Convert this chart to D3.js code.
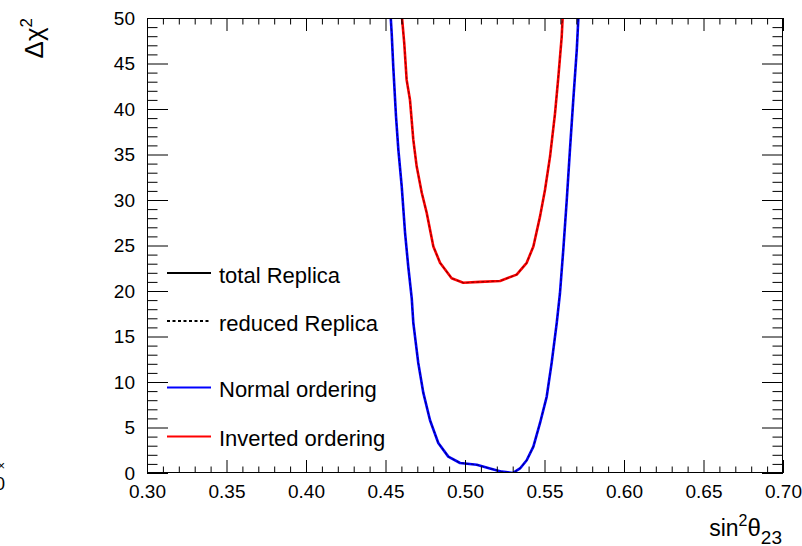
<!DOCTYPE html>
<html>
<head>
<meta charset="utf-8">
<script src="https://cdn.jsdelivr.net/npm/d3@7"></script>
<style>
  html, body { margin: 0; padding: 0; background: #fff; }
  svg { display: block; font-family: "Liberation Sans", Arial, Helvetica, sans-serif; }
</style>
</head>
<body>
<svg id="chart" width="802" height="546"></svg>
<script>
// Δχ² profile versus sin²θ23 for both mass orderings
const normalSin2 = [0.4510, 0.4533, 0.4539, 0.4549, 0.4566, 0.4581, 0.4602, 0.4623, 0.4643, 0.4665, 0.4675,
  0.4706, 0.4738, 0.4780, 0.4832, 0.4895, 0.4969, 0.5074, 0.5157, 0.5231, 0.5300, 0.5346, 0.5388,
  0.5430, 0.5472, 0.5514, 0.5545, 0.5577, 0.5597, 0.5618, 0.5640, 0.5660, 0.5681, 0.5703, 0.5713, 0.5730];
const normalDchi2 = [56.0, 50.0, 48.3, 44.6, 39.2, 35.5, 31.5, 26.4, 22.7, 19.2, 16.5,
  12.1, 8.8, 5.8, 3.3, 1.8, 1.1, 0.9, 0.5, 0.15, 0.0, 0.5, 1.4,
  2.9, 5.5, 8.4, 12.1, 16.5, 19.7, 24.5, 30.0, 35.5, 41.0, 46.5, 50.0, 55.0];

const invertedSin2 = [0.4590, 0.4604, 0.4618, 0.4633, 0.4654, 0.4675, 0.4696, 0.4728, 0.4759, 0.4801, 0.4843,
  0.4916, 0.4989, 0.5094, 0.5220, 0.5325, 0.5388, 0.5430, 0.5472, 0.5503, 0.5535, 0.5566,
  0.5587, 0.5608, 0.5614, 0.5625];
const invertedDchi2 = [54.0, 50.0, 47.2, 43.2, 41.0, 36.6, 33.7, 30.8, 28.6, 24.9, 23.1,
  21.4, 20.9, 21.0, 21.1, 21.8, 23.1, 24.9, 28.2, 31.1, 34.8, 39.5,
  43.5, 47.9, 50.0, 53.0];

const xTicks = [0.30, 0.35, 0.40, 0.45, 0.50, 0.55, 0.60, 0.65, 0.70];
const xTickLabels = ["0.30", "0.35", "0.40", "0.45", "0.50", "0.55", "0.60", "0.65", "0.70"];
const yTicks = [0, 5, 10, 15, 20, 25, 30, 35, 40, 45, 50];
const yTickLabels = ["0", "5", "10", "15", "20", "25", "30", "35", "40", "45", "50"];

const legendLabels = ["total Replica", "reduced Replica", "Normal ordering", "Inverted ordering"];
const legendColors = ["#000000", "#000000", "#0000ff", "#ff0000"];
const legendDash = [null, "3,2.5", null, null];

const svg = d3.select("#chart");
const frame = { left: 147, right: 783, top: 18, bottom: 473 };

const x = d3.scaleLinear().domain([0.30, 0.70]).range([frame.left, frame.right]);
const y = d3.scaleLinear().domain([0, 50]).range([frame.bottom, frame.top]);

const xMinor = d3.range(30, 71).map(v => v / 100).filter(v => Math.round(v * 100) % 5 !== 0);
const yMinor = d3.range(0, 51).filter(v => v % 5 !== 0);

const tickFont = "19px";

// clip region for curves
svg.append("defs").append("clipPath").attr("id", "plotClip")
  .append("rect")
  .attr("x", frame.left).attr("y", frame.top)
  .attr("width", frame.right - frame.left).attr("height", frame.bottom - frame.top);

// curves
const line = d3.line().x(d => x(d[0])).y(d => y(d[1]));
const curves = svg.append("g").attr("clip-path", "url(#plotClip)");

function drawCurve(xs, ys, color, dark) {
  const pts = xs.map((v, i) => [v, ys[i]]);
  curves.append("path").datum(pts)
    .attr("d", line).attr("fill", "none")
    .attr("stroke", color).attr("stroke-width", 2.6)
    .attr("stroke-linejoin", "round");
  // reduced replica overlaid on the total one
  curves.append("path").datum(pts)
    .attr("d", line).attr("fill", "none")
    .attr("stroke", dark).attr("stroke-width", 1.2)
    .attr("stroke-dasharray", "3,2")
    .attr("stroke-linejoin", "round");
}
drawCurve(normalSin2, normalDchi2, "#0000ff", "#00008a");
drawCurve(invertedSin2, invertedDchi2, "#ff0000", "#990000");

// axes (ticks pointing inward, mirrored on top and right)
function styleAxis(g) {
  g.select(".domain").remove();
  g.selectAll(".tick line").attr("stroke", "#000").attr("stroke-width", 1);
}

const fmtX = d => xTickLabels[xTicks.findIndex(t => Math.abs(t - d) < 1e-9)];
const fmtY = d => yTickLabels[yTicks.indexOf(d)];

svg.append("g").attr("transform", `translate(0,${frame.bottom})`)
  .call(d3.axisBottom(x).tickValues(xTicks).tickSize(-13).tickPadding(12).tickFormat(fmtX))
  .call(styleAxis)
  .call(g => g.selectAll("text").attr("font-size", tickFont).attr("fill", "#000")
    .attr("font-family", "Liberation Sans, Arial, sans-serif"));
svg.append("g").attr("transform", `translate(0,${frame.bottom})`)
  .call(d3.axisBottom(x).tickValues(xMinor).tickSize(-6.5).tickFormat(""))
  .call(styleAxis);
svg.append("g").attr("transform", `translate(0,${frame.top})`)
  .call(d3.axisTop(x).tickValues(xTicks).tickSize(-13).tickFormat(""))
  .call(styleAxis);
svg.append("g").attr("transform", `translate(0,${frame.top})`)
  .call(d3.axisTop(x).tickValues(xMinor).tickSize(-6.5).tickFormat(""))
  .call(styleAxis);

svg.append("g").attr("transform", `translate(${frame.left},0)`)
  .call(d3.axisLeft(y).tickValues(yTicks).tickSize(-21).tickPadding(12).tickFormat(fmtY))
  .call(styleAxis)
  .call(g => g.selectAll("text").attr("font-size", tickFont).attr("fill", "#000")
    .attr("font-family", "Liberation Sans, Arial, sans-serif"));
svg.append("g").attr("transform", `translate(${frame.left},0)`)
  .call(d3.axisLeft(y).tickValues(yMinor).tickSize(-10.5).tickFormat(""))
  .call(styleAxis);
svg.append("g").attr("transform", `translate(${frame.right},0)`)
  .call(d3.axisRight(y).tickValues(yTicks).tickSize(-21).tickFormat(""))
  .call(styleAxis);
svg.append("g").attr("transform", `translate(${frame.right},0)`)
  .call(d3.axisRight(y).tickValues(yMinor).tickSize(-10.5).tickFormat(""))
  .call(styleAxis);

// frame
svg.append("rect")
  .attr("x", frame.left + 0.5).attr("y", frame.top + 0.5)
  .attr("width", frame.right - frame.left - 1).attr("height", frame.bottom - frame.top - 1)
  .attr("fill", "none").attr("stroke", "#000").attr("stroke-width", 1);

// axis titles
const xTitle = svg.append("text")
  .attr("x", frame.right - 1).attr("y", 536)
  .attr("text-anchor", "end").attr("font-size", "23px").attr("fill", "#000");
xTitle.append("tspan").text("sin");
xTitle.append("tspan").attr("font-size", "16px").attr("dy", -10).text("2");
xTitle.append("tspan").attr("font-size", "24px").attr("dy", 10).text("θ");
xTitle.append("tspan").attr("font-size", "19px").attr("dy", 8).text("23");

const yTitle = svg.append("text")
  .attr("transform", `translate(43,${frame.top}) rotate(-90)`)
  .attr("text-anchor", "end").attr("font-size", "26px").attr("fill", "#000");
yTitle.append("tspan").text("Δχ");
yTitle.append("tspan").attr("font-size", "17px").attr("dy", -11).text("2");

// legend
const legendY = [273, 321, 387.5, 436.5];
const legend = svg.append("g");
legendLabels.forEach((lab, i) => {
  const l = legend.append("line")
    .attr("x1", 167).attr("x2", 211)
    .attr("y1", legendY[i]).attr("y2", legendY[i])
    .attr("stroke", legendColors[i]).attr("stroke-width", 2);
  if (legendDash[i]) l.attr("stroke-dasharray", legendDash[i]);
  legend.append("text")
    .attr("x", 219).attr("y", legendY[i] + 9.5)
    .attr("font-size", "22px").attr("fill", "#000")
    .text(lab);
});

// fragments of the neighbouring panel at the left edge
svg.append("text").attr("x", 5).attr("y", 470).attr("text-anchor", "end")
  .attr("font-size", "13px").attr("fill", "#000").text("×");
svg.append("text").attr("x", -5).attr("y", 490)
  .attr("font-size", "18px").attr("fill", "#000").text("0");
</script>
</body>
</html>
